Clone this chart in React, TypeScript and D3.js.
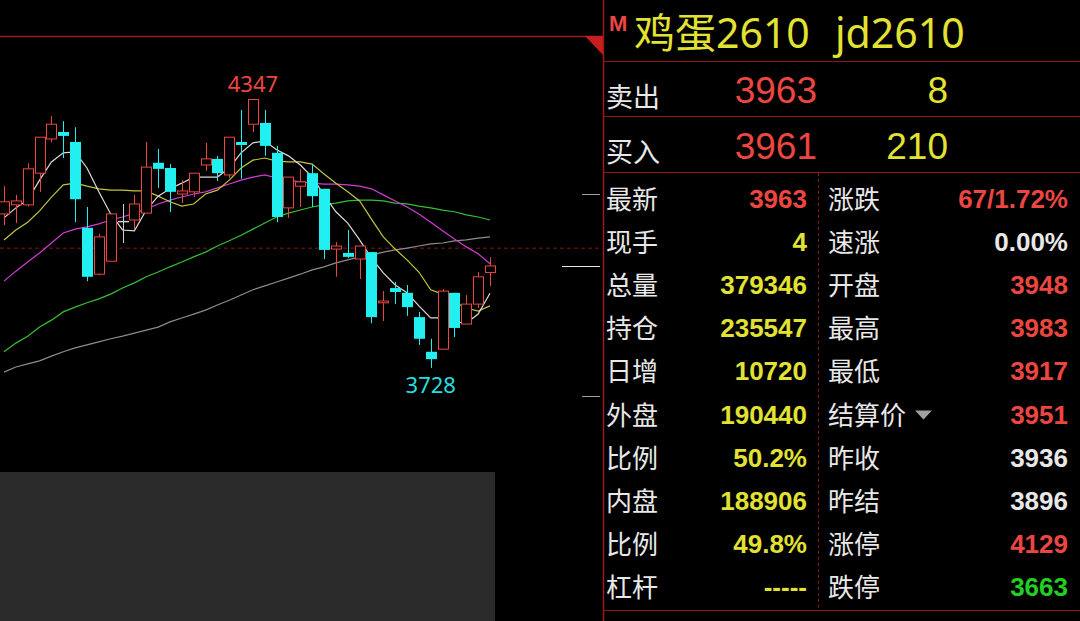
import * as d3 from "d3";

// candles (oldest first)
const opens = [4083, 4104, 4104, 4177, 4256, 4272, 4249, 4051, 3944, 3974, 4067, 4069, 4085, 4201, 4189, 4129, 4134, 4196, 4210, 4173, 4249, 4290, 4293, 4224, 4097, 4147, 4177, 4141, 4002, 3993, 3979, 3995, 3878, 3912, 3901, 3845, 3765, 3771, 3901, 3829, 3875, 3948];
const highs = [4147, 4127, 4200, 4260, 4309, 4297, 4283, 4099, 4037, 4083, 4106, 4127, 4249, 4233, 4198, 4161, 4177, 4247, 4217, 4260, 4323, 4347, 4323, 4240, 4168, 4187, 4198, 4141, 4018, 4046, 4009, 3995, 3905, 3926, 3919, 3857, 3795, 3910, 3901, 3896, 3949, 3983];
const lows = [4057, 4062, 4100, 4134, 4249, 4212, 4064, 3928, 3941, 3974, 4016, 4048, 4085, 4143, 4087, 4108, 4122, 4182, 4159, 4166, 4164, 4272, 4217, 4064, 4074, 4099, 4099, 3979, 3938, 3981, 3933, 3831, 3836, 3875, 3848, 3781, 3728, 3771, 3799, 3829, 3866, 3917];
const closes = [4111, 4113, 4187, 4260, 4290, 4263, 4117, 3938, 4030, 4083, 4067, 4106, 4191, 4187, 4134, 4136, 4177, 4210, 4177, 4260, 4242, 4347, 4240, 4076, 4168, 4157, 4124, 4000, 4009, 3984, 4009, 3845, 3882, 3903, 3868, 3795, 3748, 3905, 3820, 3875, 3938, 3963];

// moving averages
const ma5 = [4074, 4097, 4115, 4161, 4203, 4224, 4226, 4189, 4134, 4083, 4046, 4044, 4092, 4124, 4141, 4154, 4168, 4168, 4168, 4189, 4224, 4247, 4251, 4231, 4217, 4196, 4168, 4127, 4088, 4062, 4023, 3981, 3947, 3919, 3901, 3871, 3843, 3843, 3834, 3831, 3852, 3900];
const ma10 = [4023, 4046, 4064, 4090, 4122, 4150, 4154, 4147, 4141, 4138, 4138, 4136, 4136, 4124, 4111, 4101, 4106, 4129, 4138, 4161, 4189, 4207, 4212, 4205, 4203, 4203, 4198, 4175, 4154, 4134, 4113, 4071, 4030, 4002, 3977, 3949, 3908, 3898, 3880, 3866, 3859, 3871];
const ma20 = [3928, 3951, 3972, 3993, 4016, 4039, 4048, 4053, 4060, 4069, 4076, 4085, 4094, 4106, 4115, 4122, 4129, 4134, 4143, 4152, 4161, 4168, 4173, 4166, 4161, 4157, 4154, 4152, 4152, 4150, 4147, 4141, 4127, 4113, 4099, 4083, 4064, 4044, 4025, 4007, 3991, 3968];
const ma40 = [3765, 3785, 3801, 3822, 3838, 3857, 3868, 3878, 3887, 3898, 3912, 3924, 3938, 3949, 3961, 3972, 3984, 3995, 4009, 4021, 4034, 4048, 4062, 4076, 4085, 4092, 4099, 4104, 4108, 4113, 4115, 4115, 4113, 4108, 4106, 4101, 4097, 4092, 4088, 4081, 4076, 4069];
const ma60 = [3718, 3730, 3737, 3744, 3755, 3765, 3774, 3781, 3788, 3795, 3801, 3808, 3815, 3822, 3834, 3843, 3852, 3861, 3873, 3884, 3896, 3908, 3917, 3926, 3935, 3944, 3954, 3961, 3970, 3977, 3984, 3988, 3995, 4000, 4004, 4009, 4014, 4016, 4021, 4023, 4027, 4030];

const limitUp = 4129;
const limitDown = 3663;
const lastPrice = 3963;
const refLine = 4004;
const prevSettle = 3896;

const title = "鸡蛋2610";
const code = "jd2610";
const askPrice = "3963";
const askVol = "8";
const bidPrice = "3961";
const bidVol = "210";

const leftLabels = ["最新", "现手", "总量", "持仓", "日增", "外盘", "比例", "内盘", "比例", "杠杆"];
const leftValues = ["3963", "4", "379346", "235547", "10720", "190440", "50.2%", "188906", "49.8%", "-----"];
const rightLabels = ["涨跌", "速涨", "开盘", "最高", "最低", "结算价", "昨收", "昨结", "涨停", "跌停"];
const rightValues = ["67/1.72%", "0.00%", "3948", "3983", "3917", "3951", "3936", "3896", "4129", "3663"];

const W = 1080;
const H = 621;
const RED = "#ec4640";
const CYAN = "#22f0f0";
const YELLOW = "#e2e232";
const WHITE = "#e8e8e8";
const GREEN = "#22d022";
const FRAME = "#8e1616";
const CJK = "'Noto Sans CJK SC', 'Noto Sans', sans-serif";
const LATIN = "'Noto Sans', 'Noto Sans CJK SC', sans-serif";
const NUM = "'Liberation Sans', Arial, sans-serif";

// price colour against previous settlement
function priceColor(v: string) {
  const n = parseFloat(v);
  if (n > prevSettle) return RED;
  if (n < prevSettle) return GREEN;
  return WHITE;
}
const leftColors = leftValues.map((v, i) => (i === 0 ? priceColor(v) : YELLOW));
const rightColors = rightValues.map((v, i) => {
  if (i === 0) return RED;
  if (i === 1 || i === 6) return WHITE; // 速涨, 昨收
  return priceColor(v);
});

export default function App() {
  const x = d3.scaleLinear().domain([0, closes.length - 1]).range([4, 490]);
  const y = d3.scaleLinear().domain([limitDown, limitUp]).range([396, 194]);
  const row = d3.scalePoint<number>().domain(d3.range(leftLabels.length)).range([199, 587]);

  const line = d3
    .line<number>()
    .x((_, i) => x(i))
    .y((d) => y(d));

  const mas: [number[], string][] = [
    [ma60, "#8c8c8c"],
    [ma40, "#34c034"],
    [ma20, "#d23cd2"],
    [ma10, "#c4c43c"],
    [ma5, "#dcdcdc"],
  ];

  const bodyW = 10;

  return (
    <div style={{ position: "fixed", left: 0, top: 0, width: W, height: H, background: "#000" }}>
      <svg width={W} height={H} style={{ display: "block" }}>
        <rect x={0} y={0} width={W} height={H} fill="#000" />

        {/* chart frame */}
        <line x1={0} x2={603} y1={36.5} y2={36.5} stroke="#a01818" strokeWidth={1.5} />
        <polygon points="585,36 603,36 603,55" fill="#c81e1e" />
        <line x1={0} x2={602} y1={y(refLine)} y2={y(refLine)} stroke="#7a1a1a" strokeDasharray="4 3" />
        <rect x={0} y={472} width={495} height={H - 472} fill="#2a2a2a" />

        {/* price ticks on right */}
        <line x1={582} x2={600} y1={Math.round(y(limitUp)) + 0.5} y2={Math.round(y(limitUp)) + 0.5} stroke="#a0a0a0" />
        <line x1={582} x2={600} y1={Math.round(y(limitDown)) + 0.5} y2={Math.round(y(limitDown)) + 0.5} stroke="#a0a0a0" />
        <line x1={562} x2={600} y1={Math.round(y(lastPrice)) + 0.5} y2={Math.round(y(lastPrice)) + 0.5} stroke="#e8e8e8" />

        {/* moving averages */}
        {mas.map(([d, c], k) => (
          <path key={k} d={line(d) || ""} fill="none" stroke={c} strokeWidth={1.2} />
        ))}

        {/* candles */}
        {closes.map((c, i) => {
          const o = opens[i];
          const cx = Math.round(x(i)) + 0.5;
          const top = y(Math.max(o, c));
          const bot = y(Math.min(o, c));
          if (c > o) {
            return (
              <g key={i} stroke={RED} fill="#000">
                <line x1={cx} x2={cx} y1={y(highs[i])} y2={top} />
                <line x1={cx} x2={cx} y1={bot} y2={y(lows[i])} />
                <rect x={cx - bodyW / 2} y={top} width={bodyW} height={Math.max(1, bot - top)} />
              </g>
            );
          }
          const col = c < o ? CYAN : "#d0d0d0";
          return (
            <g key={i}>
              <line x1={cx} x2={cx} y1={y(highs[i])} y2={y(lows[i])} stroke={col} />
              <rect x={cx - bodyW / 2 - 0.5} y={top} width={bodyW + 1} height={Math.max(1.5, bot - top)} fill={col} />
            </g>
          );
        })}

        {/* extreme labels */}
        <text x={x(d3.maxIndex(highs))} y={y(d3.max(highs)!) - 8} fill={RED} fontSize={22} fontFamily={LATIN} textAnchor="middle">
          {d3.max(highs)}
        </text>
        <text x={x(d3.minIndex(lows))} y={y(d3.min(lows)!) + 25} fill="#22dede" fontSize={22} fontFamily={LATIN} textAnchor="middle">
          {d3.min(lows)}
        </text>

        {/* quote panel frame */}
        <line x1={603.5} x2={603.5} y1={0} y2={H} stroke="#a01818" strokeWidth={1.5} />
        {[61.5, 116.5, 172.5, 610.5].map((yy) => (
          <line key={yy} x1={603} x2={W} y1={yy} y2={yy} stroke={FRAME} />
        ))}
        <line x1={818.5} x2={818.5} y1={173} y2={610} stroke={FRAME} strokeDasharray="3 3" />

        {/* title */}
        <text x={609} y={31} fill={RED} fontSize={22} fontWeight="bold" fontFamily={NUM}>M</text>
        <text x={634} y={48} fill={YELLOW} fontSize={41} fontFamily={LATIN}>{title}</text>
        <text x={835} y={48} fill={YELLOW} fontSize={41} fontFamily={LATIN}>{code}</text>

        {/* ask / bid */}
        <text x={606} y={107} fill={WHITE} fontSize={27} fontFamily={CJK}>卖出</text>
        <text x={817} y={103} fill={RED} fontSize={37} fontFamily={NUM} textAnchor="end">{askPrice}</text>
        <text x={948} y={103} fill={YELLOW} fontSize={37} fontFamily={NUM} textAnchor="end">{askVol}</text>
        <text x={606} y={162} fill={WHITE} fontSize={27} fontFamily={CJK}>买入</text>
        <text x={817} y={159} fill={RED} fontSize={37} fontFamily={NUM} textAnchor="end">{bidPrice}</text>
        <text x={948} y={159} fill={YELLOW} fontSize={37} fontFamily={NUM} textAnchor="end">{bidVol}</text>

        {/* table */}
        {leftLabels.map((l, i) => (
          <g key={"l" + i}>
            <text x={606} y={row(i)! + 10} fill={WHITE} fontSize={26} fontFamily={CJK}>{l}</text>
            <text x={807} y={row(i)! + 9} fill={leftColors[i]} fontSize={26} fontWeight="bold" fontFamily={NUM} textAnchor="end">
              {leftValues[i]}
            </text>
          </g>
        ))}
        {rightLabels.map((l, i) => (
          <g key={"r" + i}>
            <text x={828} y={row(i)! + 10} fill={WHITE} fontSize={26} fontFamily={CJK}>{l}</text>
            <text x={1068} y={row(i)! + 9} fill={rightColors[i]} fontSize={26} fontWeight="bold" fontFamily={NUM} textAnchor="end">
              {rightValues[i]}
            </text>
          </g>
        ))}
        <polygon
          points={`915,${row(5)! - 4} 932,${row(5)! - 4} 923.5,${row(5)! + 5}`}
          fill="#a0a0a0"
        />
      </svg>
    </div>
  );
}
